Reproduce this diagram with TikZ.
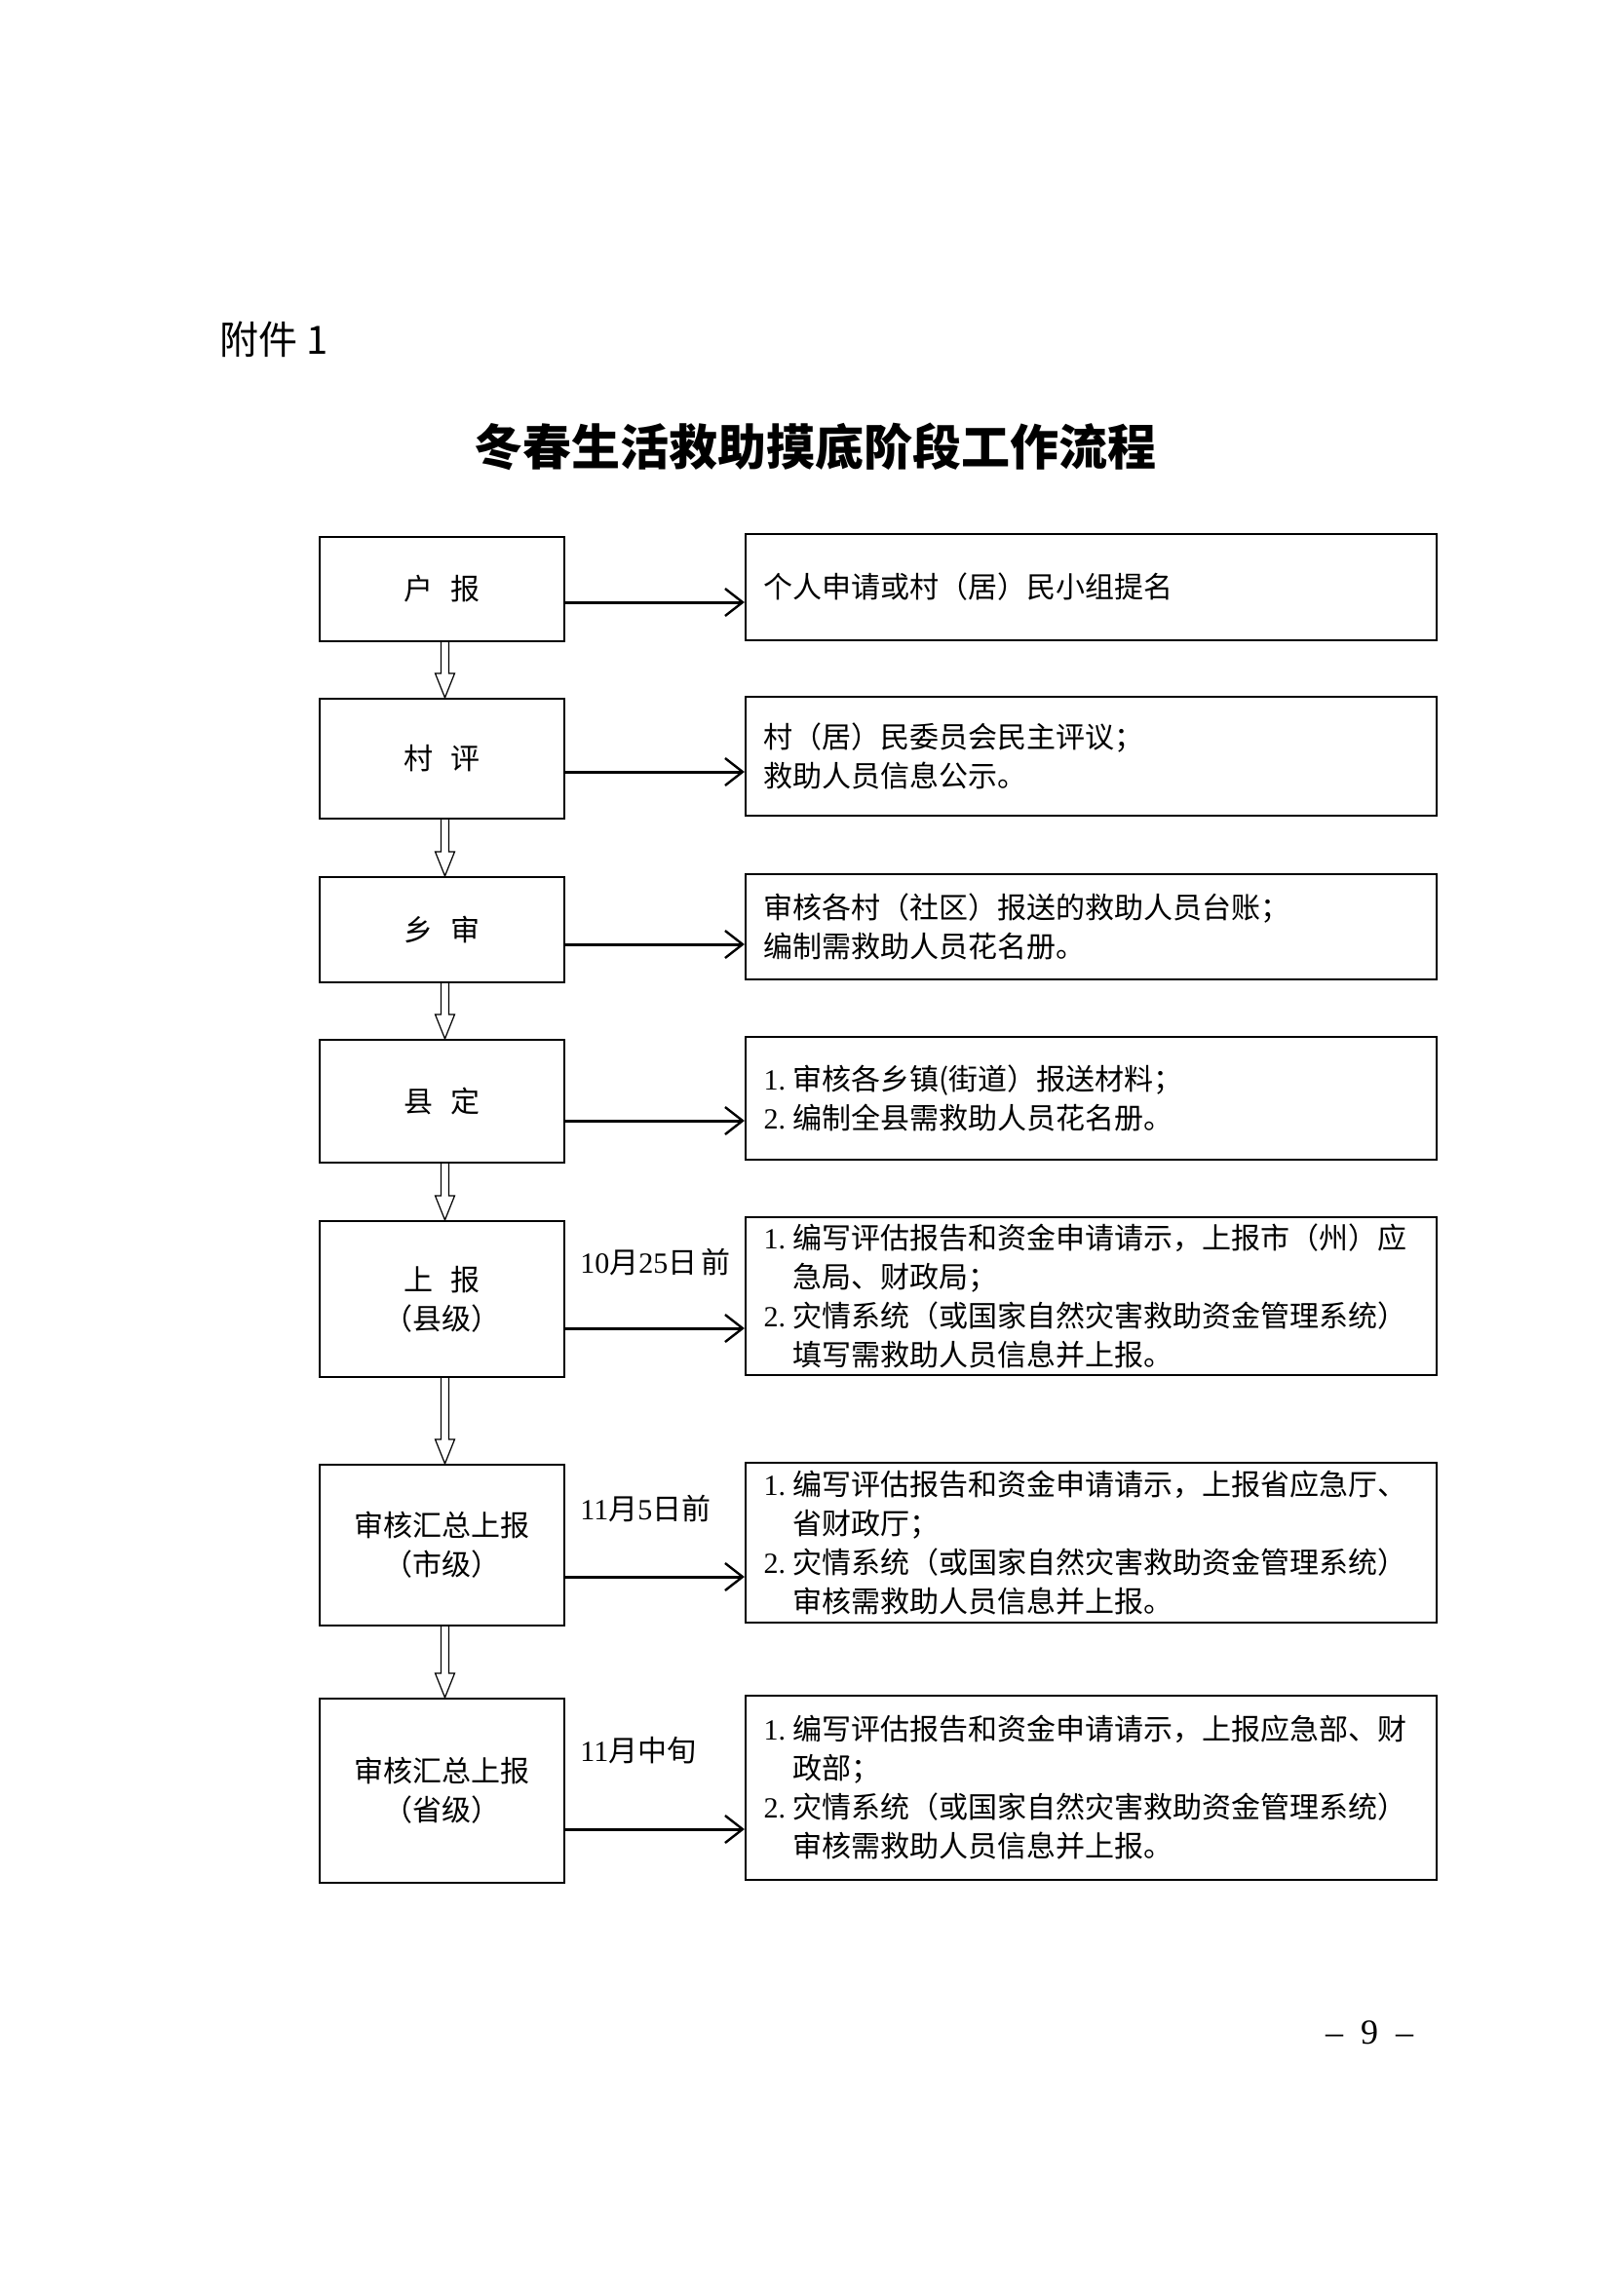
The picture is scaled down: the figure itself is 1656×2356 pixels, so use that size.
\documentclass[tikz,border=0pt]{standalone}
\usepackage{fontspec}
\setmainfont{Liberation Serif}
\newfontfamily\cjk{Noto Sans CJK SC}
\newfontfamily\lat{Liberation Serif}
\usetikzlibrary{arrows.meta,calc}
\newcommand\nm[1]{\makebox[15pt][l]{\lat #1}}
\newcommand\ind{\hspace*{15pt}}
\newcommand\hollowarrow[2]{%
  \draw[hollow] ($(#1.south)+(-1,0)$) -- ($(#2.north)+(-1,-25)$) -- ($(#2.north)+(-7,-25)$)
    -- ($(#2.north)+(3,0)$) -- ($(#2.north)+(13,-25)$) -- ($(#2.north)+(7,-25)$) -- ($(#1.south)+(7,0)$);}
\begin{document}
\begin{tikzpicture}[x=0.5pt,y=-0.5pt,
  txt/.style={font=\cjk\fontsize{15pt}{20pt}\selectfont},
  lbox/.style={txt, draw, line width=1.1pt, minimum width=125.5pt, align=center, inner sep=0pt},
  rbox/.style={txt, draw, line width=1.1pt, minimum width=354.5pt, text width=336pt, align=left, inner xsep=9pt, inner ysep=0pt},
  harrow/.style={line width=1.5pt, -{Straight Barb[length=9pt,width=14pt,line width=1.2pt]}},
  hollow/.style={line width=0.6pt, line join=miter},
  lbl/.style={txt, anchor=west, inner sep=0pt}]
\fill[white] (0,0) rectangle (1656,2356);
\useasboundingbox (0,0) rectangle (1656,2356);

\node[anchor=west, inner sep=0pt, font=\cjk\fontsize{20pt}{24pt}\selectfont] (hdr) at (225,348) {附件 1};
\node[inner sep=0pt, font=\cjk\bfseries\fontsize{25pt}{30pt}\selectfont] (title) at (836,458) {冬春生活救助摸底阶段工作流程};

% left boxes
\node[lbox, minimum height=53.5pt] (L1) at (453.5,604.5) {户\hspace{0.6em}报};
\node[lbox, minimum height=61.5pt] (L2) at (453.5,778.5) {村\hspace{0.6em}评};
\node[lbox, minimum height=54pt] (L3) at (453.5,954) {乡\hspace{0.6em}审};
\node[lbox, minimum height=63pt] (L4) at (453.5,1130) {县\hspace{0.6em}定};
\node[lbox, minimum height=80pt] (L5) at (453.5,1333) {上\hspace{0.6em}报\\（县级）};
\node[lbox, minimum height=82.5pt] (L6) at (453.5,1585.5) {审核汇总上报\\（市级）};
\node[lbox, minimum height=94.5pt] (L7) at (453.5,1837.5) {审核汇总上报\\（省级）};

% right boxes
\node[rbox, minimum height=54.5pt] (R1) at (1119.5,602.5) {个人申请或村（居）民小组提名};
\node[rbox, minimum height=61pt] (R2) at (1119.5,776) {村（居）民委员会民主评议；\\救助人员信息公示。};
\node[rbox, minimum height=54pt] (R3) at (1119.5,951) {审核各村（社区）报送的救助人员台账；\\编制需救助人员花名册。};
\node[rbox, minimum height=63pt] (R4) at (1119.5,1127) {\nm{1.}审核各乡镇(街道）报送材料；\\\nm{2.}编制全县需救助人员花名册。};
\node[rbox, minimum height=81pt] (R5) at (1119.5,1330) {\nm{1.}编写评估报告和资金申请请示，上报市（州）应\\\ind 急局、财政局；\\\nm{2.}灾情系统（或国家自然灾害救助资金管理系统）\\\ind 填写需救助人员信息并上报。};
\node[rbox, minimum height=82pt] (R6) at (1119.5,1583) {\nm{1.}编写评估报告和资金申请请示，上报省应急厅、\\\ind 省财政厅；\\\nm{2.}灾情系统（或国家自然灾害救助资金管理系统）\\\ind 审核需救助人员信息并上报。};
\node[rbox, minimum height=94.5pt] (R7) at (1119.5,1834.5) {\nm{1.}编写评估报告和资金申请请示，上报应急部、财\\\ind 政部；\\\nm{2.}灾情系统（或国家自然灾害救助资金管理系统）\\\ind 审核需救助人员信息并上报。};

% date labels
\node[lbl] (d5) at (595,1295) {{\lat 10}月{\lat 25}日\hspace{0.15em}前};
\node[lbl] (d6) at (595,1548) {{\lat 11}月{\lat 5}日前};
\node[lbl] (d7) at (595,1796) {{\lat 11}月中旬};

% horizontal arrows
\coordinate (h1) at ($(L1.east)+(0,13.5)$);
\coordinate (h2) at ($(L2.east)+(0,13.5)$);
\coordinate (h3) at ($(L3.east)+(0,15)$);
\coordinate (h4) at ($(L4.east)+(0,20)$);
\coordinate (h5) at ($(L5.east)+(0,30)$);
\coordinate (h6) at ($(L6.east)+(0,32.5)$);
\coordinate (h7) at ($(L7.east)+(0,39.5)$);
\foreach \i in {1,...,7}{\draw[harrow] (h\i) -- (h\i -| R\i.west);}

% hollow down arrows
\hollowarrow{L1}{L2}
\hollowarrow{L2}{L3}
\hollowarrow{L3}{L4}
\hollowarrow{L4}{L5}
\hollowarrow{L5}{L6}
\hollowarrow{L6}{L7}

\node[inner sep=0pt, font=\lat\fontsize{18pt}{20pt}\selectfont] (pg) at (1405,2086) {–\hspace{0.5em}9\hspace{0.5em}–};
\end{tikzpicture}
\end{document}
